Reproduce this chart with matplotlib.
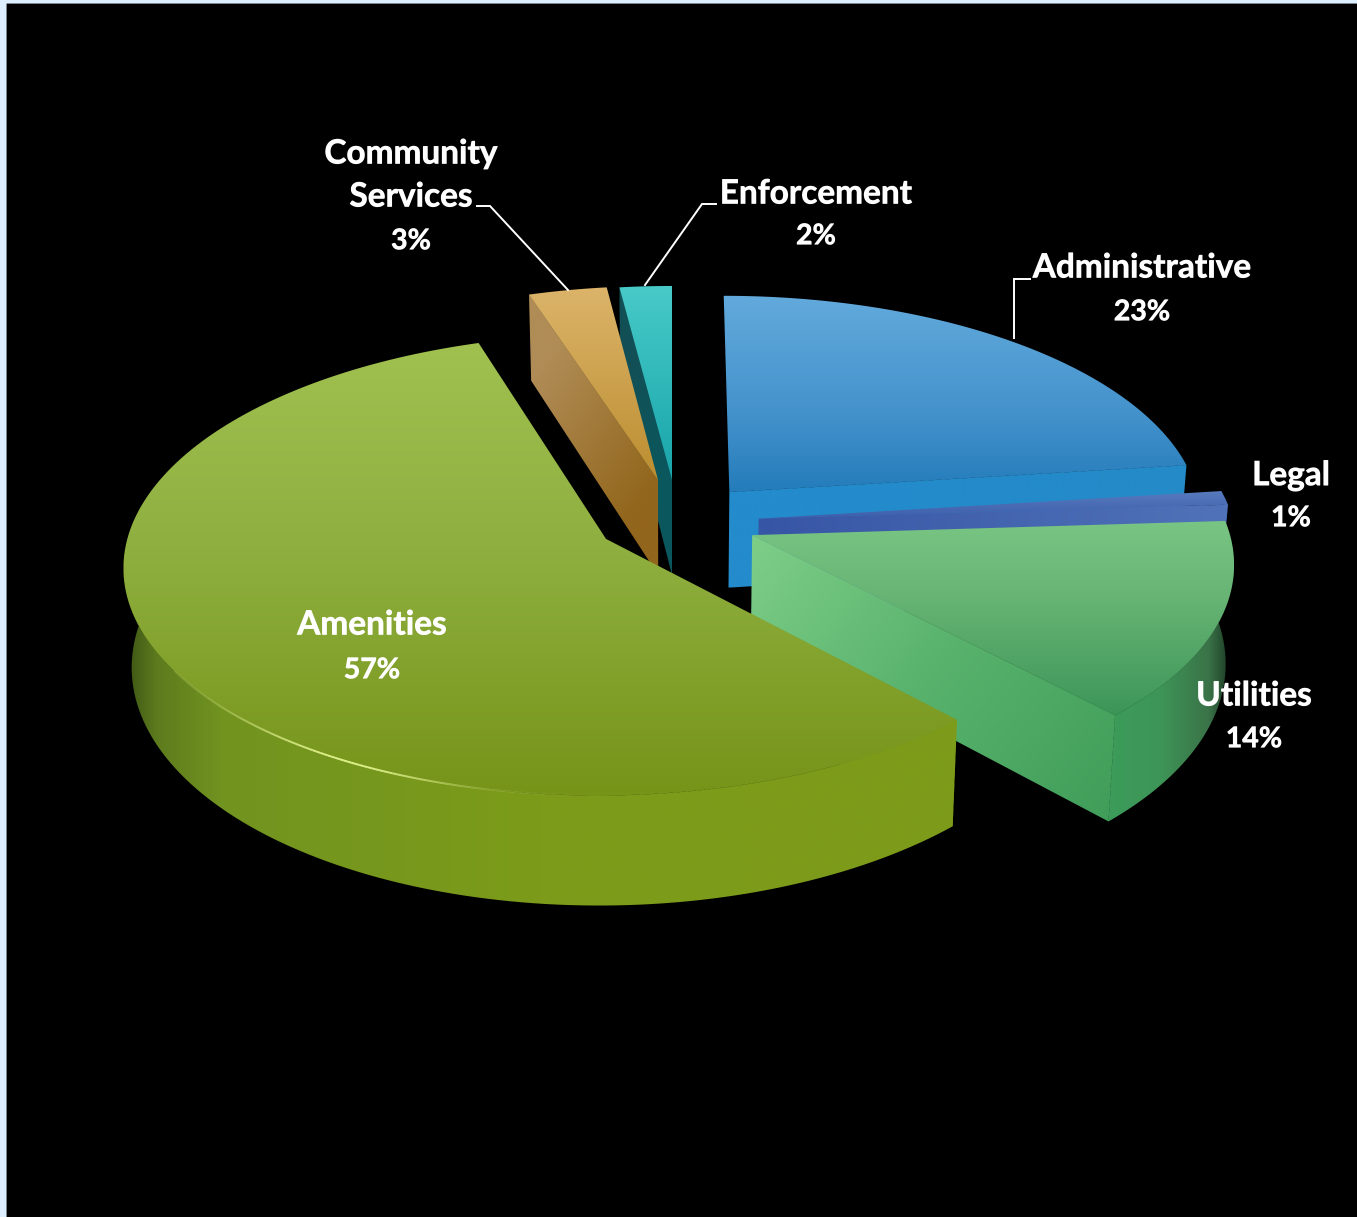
"""Budget share chart: exploded 3D-style pie on a black panel."""

import numpy as np
import matplotlib
matplotlib.use('Agg')
import matplotlib.pyplot as plt
import matplotlib.patheffects as pe
from matplotlib.collections import LineCollection
from matplotlib.patches import Polygon, Rectangle

W, H = 1357, 1217
SS = 2  # drawn at double size, averaged down at the end

CATEGORIES = ['Administrative', 'Legal', 'Utilities', 'Amenities', 'Community Services', 'Enforcement']
SHARES = [23, 1, 14, 57, 3, 2]

# projection of the disc
CX, CY = 672, 480
RADIUS = 465
TILT = 215 / 465
PERSP = 0.108
THICK = 95
BASE_SHRINK = 0.985

# how far each slice is pulled out of the pie (right, back)
EXPLODE = [(57, -26), (85, -82), (78, -116), (-64, -124), (-14, 0), (0, 0)]
DRAW_ORDER = [5, 4, 0, 1, 2, 3]

TOP_COLORS = [
    [(0, (98, 170, 220)), (0.6, (68, 146, 204)), (1, (36, 124, 186))],
    [(0, (88, 122, 190)), (1, (62, 96, 172))],
    [(0, (120, 197, 132)), (0.4, (103, 180, 116)), (1, (60, 150, 88))],
    [(0, (160, 192, 80)), (0.45, (143, 175, 64)), (1, (118, 148, 24))],
    [(0, (220, 180, 106)), (1, (188, 142, 48))],
    [(0, (72, 202, 200)), (1, (24, 165, 170))],
]
# cut faces run from the pie centre out to the rim
FACE_COLORS = [
    [(0, (36, 140, 205)), (1, (36, 138, 200))],
    [(0, (55, 85, 165)), (1, (80, 115, 185))],
    [(0, (126, 206, 136)), (0.5, (88, 178, 108)), (1, (64, 158, 90))],
    [(0, (120, 150, 30)), (1, (120, 150, 30))],
    [(0, (146, 102, 28)), (1, (176, 140, 86))],
    [(0, (10, 88, 94)), (1, (18, 80, 86))],
]
# outer walls shade from left to right across the slice
WALL_COLORS = [
    [(0, (36, 138, 200)), (1, (36, 138, 200))],
    [(0, (80, 115, 185)), (1, (80, 115, 185))],
    [(0, (60, 156, 90)), (0.4, (62, 150, 88)), (0.8, (58, 115, 72)), (1, (24, 48, 30))],
    [(0, (58, 82, 20)), (0.04, (94, 124, 30)), (0.12, (114, 148, 32)), (0.5, (124, 155, 26)), (1, (126, 156, 26))],
    [(0, (150, 110, 40)), (1, (150, 110, 40))],
    [(0, (18, 80, 86)), (1, (18, 80, 86))],
]

# label text, centred at (x, y) per line
LABEL_LINES = [['Administrative'], ['Legal'], ['Utilities'], ['Amenities'], ['Community', 'Services'], ['Enforcement']]
LABEL_X = [1142, 1291, 1254, 372, 411, 816]
LABEL_Y = [[268, 312], [476, 518], [696, 739], [625, 670], [154, 197, 241], [194, 236]]

LEADERS = [
    [(1030, 279), (1014, 279), (1014, 338)],
    [(477, 206), (490, 206), (568, 290)],
    [(716, 204), (702, 204), (645, 285)],
]


def project(theta, frac, explode, drop=0.0):
    """Screen position of a point on the disc, frac=0 at the apex and 1 on the rim."""
    wx = explode[0] + frac * RADIUS * np.sin(theta)
    wy = (explode[1] + frac * RADIUS * np.cos(theta)) / RADIUS
    s = 1 / (1 + PERSP * wy)
    k = BASE_SHRINK if drop else 1.0
    return CX + wx * s * k, CY - RADIUS * TILT * wy * s + drop * s


def rim(th, explode, drop=0.0):
    x, y = project(th, 1.0, explode, drop)
    return np.column_stack([x, y])


def ramp(t, stops):
    pos = [p for p, _ in stops]
    return np.stack([np.interp(t, pos, [c[i] / 255 for _, c in stops]) for i in range(3)], axis=-1)


def fill_gradient(ax, pts, p0, p1, stops, zorder):
    x0, y0 = pts.min(axis=0)
    x1, y1 = pts.max(axis=0)
    xs = np.linspace(x0, x1, max(int(x1 - x0), 2))
    ys = np.linspace(y0, y1, max(int(y1 - y0), 2))
    gx, gy = np.meshgrid(xs, ys)
    dx, dy = p1[0] - p0[0], p1[1] - p0[1]
    t = ((gx - p0[0]) * dx + (gy - p0[1]) * dy) / (dx * dx + dy * dy)
    im = ax.imshow(ramp(np.clip(t, 0, 1), stops), extent=(x0, x1, y1, y0),
                   aspect='auto', interpolation='bilinear', zorder=zorder)
    clip = Polygon(pts, closed=True, transform=ax.transData)
    im.set_clip_path(clip)


def draw_slice(ax, i, t0, t1, zorder):
    ex = EXPLODE[i]
    th = np.linspace(t0, t1, 160)
    top_rim = rim(th, ex)
    low_rim = rim(th, ex, THICK)
    apex = np.array(project(0.0, 0.0, ex))
    apex_low = np.array(project(0.0, 0.0, ex, THICK))

    # only the cut face turned towards the viewer is drawn
    end = -1 if t1 < np.pi else 0
    face = np.array([apex, top_rim[end], low_rim[end], apex_low])
    fill_gradient(ax, face, apex, low_rim[end], FACE_COLORS[i], zorder)

    front = np.cos(th) < 0.1
    if front.sum() > 1:
        wall = np.vstack([top_rim[front], low_rim[front][::-1]])
        left, right = wall[:, 0].min(), wall[:, 0].max()
        fill_gradient(ax, wall, (left, 0), (right, 0), WALL_COLORS[i], zorder + 0.1)

    top = np.vstack([apex, top_rim])
    fill_gradient(ax, top, (0, top[:, 1].min()), (0, top[:, 1].max()), TOP_COLORS[i], zorder + 0.2)


def rim_highlight(ax, t0, t1, explode, zorder):
    # thin glint along the front edge of the big slice
    pts = rim(np.linspace(t0, t1, 160), explode)
    segs = np.stack([pts[:-1], pts[1:]], axis=1)
    mid = segs[:, :, 0].mean(axis=1)
    colors = np.zeros((len(segs), 4))
    colors[:, :3] = (0.88, 0.95, 0.55)
    colors[:, 3] = np.exp(-((mid - 345) / 120) ** 2)
    ax.add_collection(LineCollection(segs, colors=colors, linewidths=1.4, zorder=zorder))


def main():
    fig = plt.figure(figsize=(W / 100, H / 100), dpi=100 * SS, facecolor=(0.87, 0.94, 1.0))
    ax = fig.add_axes([0, 0, 1, 1])
    ax.axis('off')
    ax.add_patch(Rectangle((7, 4), W, H, color='black', zorder=0))

    edges = np.cumsum([0] + SHARES) / sum(SHARES) * 2 * np.pi
    for z, i in enumerate(DRAW_ORDER):
        draw_slice(ax, i, edges[i], edges[i + 1], z + 1)
    amen = CATEGORIES.index('Amenities')
    rim_highlight(ax, edges[amen] + 0.35, edges[amen] + 1.75, EXPLODE[amen], 8)

    for pts in LEADERS:
        xs, ys = zip(*pts)
        ax.plot(xs, ys, color='white', lw=1.4, zorder=9, solid_joinstyle='miter')

    thicker = [pe.withStroke(linewidth=0.5, foreground='white')]
    for i, lines in enumerate(LABEL_LINES):
        for text, y in zip(lines, LABEL_Y[i]):
            ax.text(LABEL_X[i], y, text, color='white', ha='center', va='center',
                    fontsize=24, fontweight='bold', family='Lato', zorder=10, path_effects=thicker)
        ax.text(LABEL_X[i], LABEL_Y[i][-1], f'{SHARES[i]}%', color='white', ha='center', va='center',
                fontsize=20.5, fontweight='bold', family='Lato', zorder=10, path_effects=thicker)

    ax.set_xlim(0, W)
    ax.set_ylim(H, 0)

    fig.canvas.draw()
    buf = np.asarray(fig.canvas.buffer_rgba())[:, :, :3] / 255
    small = buf.reshape(H, SS, W, SS, 3).mean(axis=(1, 3))
    plt.imsave('out.png', small)
    plt.close(fig)


if __name__ == '__main__':
    main()
